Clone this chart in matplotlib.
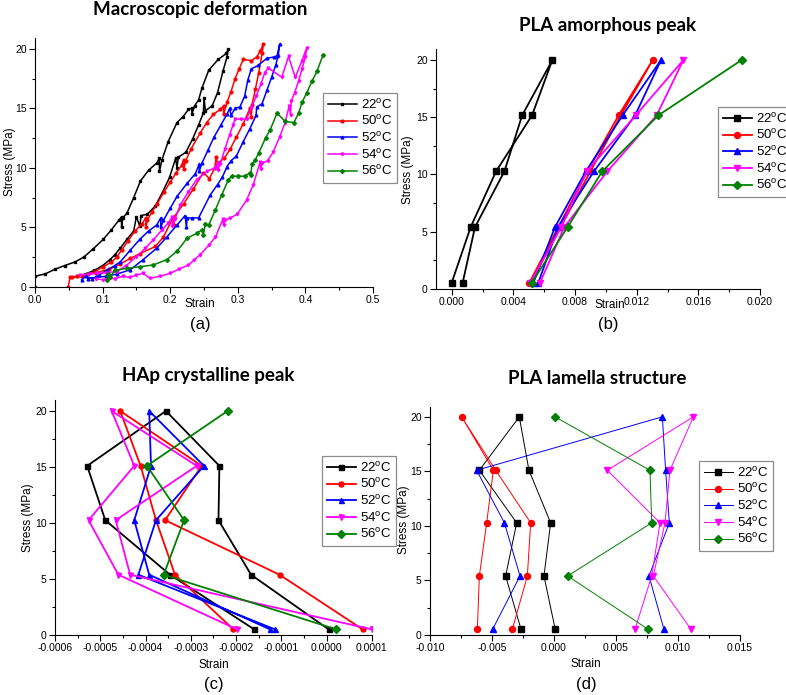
import matplotlib
matplotlib.use("Agg")
import matplotlib.pyplot as plt
from matplotlib.ticker import MultipleLocator, FormatStrFormatter, FuncFormatter

plt.rcParams['font.family'] = ['Liberation Sans', 'DejaVu Sans']
plt.rcParams['axes.unicode_minus'] = False
plt.rcParams['mathtext.fontset'] = 'custom'
plt.rcParams['mathtext.rm'] = 'Liberation Sans'

labels = [r'22$^{\rm o}$C', r'50$^{\rm o}$C', r'52$^{\rm o}$C', r'54$^{\rm o}$C', r'56$^{\rm o}$C']
colors = ['black', 'red', 'blue', 'magenta', 'green']
markers = ['s', 'o', '^', 'v', 'D']

# (a) macroscopic deformation
a_strain_22 = [0.000, 0.000, 0.015, 0.030, 0.044, 0.059, 0.072, 0.086, 0.101, 0.113, 0.124, 0.128, 0.128, 0.130,
               0.136, 0.146, 0.156, 0.168, 0.180, 0.184, 0.184, 0.188, 0.197, 0.210, 0.219, 0.227, 0.232, 0.232,
               0.236, 0.242, 0.247, 0.257, 0.271, 0.283, 0.286,
               0.284, 0.278, 0.270, 0.262, 0.252, 0.250, 0.249, 0.242, 0.233, 0.223, 0.212, 0.210, 0.208, 0.199,
               0.189, 0.178, 0.166, 0.157, 0.155, 0.150, 0.146, 0.136, 0.126, 0.118, 0.111, 0.100, 0.088, 0.075, 0.062]
a_stress_22 = [0.0, 0.9, 1.1, 1.5, 1.8, 2.1, 2.5, 3.2, 4.0, 4.8, 5.6, 5.9, 5.0, 5.8,
               6.2, 7.5, 8.9, 9.8, 10.4, 10.8, 9.7, 10.7, 12.2, 13.8, 14.3, 14.9, 15.0, 14.5,
               15.2, 15.7, 16.7, 18.2, 19.1, 19.6, 20.0,
               19.3, 18.1, 16.3, 15.2, 14.8, 15.9, 14.6, 13.6, 12.4, 11.3, 10.9, 10.0, 10.8, 9.2,
               8.0, 6.8, 6.1, 6.0, 5.1, 5.9, 4.7, 4.0, 3.25, 2.7, 2.3, 1.8, 1.4, 1.1, 0.9]

a_strain_50 = [0.049, 0.052, 0.062, 0.075, 0.089, 0.101, 0.113, 0.121, 0.128, 0.138, 0.148, 0.158, 0.164, 0.164,
               0.166, 0.173, 0.181, 0.191, 0.200, 0.209, 0.217, 0.220, 0.220, 0.223, 0.231, 0.244, 0.254, 0.264,
               0.274, 0.279, 0.279, 0.284, 0.290, 0.296, 0.302, 0.308, 0.320, 0.328, 0.333, 0.338,
               0.336, 0.331, 0.326, 0.321, 0.320, 0.318, 0.308, 0.298, 0.289, 0.280, 0.270, 0.268, 0.266, 0.258,
               0.249, 0.234, 0.220, 0.206, 0.205, 0.204, 0.190, 0.178, 0.155, 0.141, 0.125, 0.110, 0.090, 0.070, 0.055]
a_stress_50 = [0.0, 0.8, 0.9, 1.0, 1.3, 1.7, 2.1, 2.5, 3.1, 3.9, 4.7, 5.3, 5.8, 5.0,
               5.6, 6.3, 7.0, 8.0, 8.8, 9.6, 10.2, 10.7, 9.9, 10.6, 11.6, 12.9, 13.8, 14.5,
               14.9, 15.2, 14.5, 15.5, 16.4, 17.5, 18.3, 19.1, 19.0, 19.3, 19.8, 20.4,
               19.6, 18.0, 16.6, 15.3, 14.3, 15.0, 13.7, 12.6, 11.6, 10.8, 10.4, 10.9, 10.0, 9.1,
               9.6, 8.2, 7.0, 5.9, 5.2, 5.8, 4.2, 3.4, 2.8, 2.4, 1.9, 1.5, 1.2, 0.9, 0.8]

a_strain_52 = [0.069, 0.075, 0.085, 0.095, 0.106, 0.118, 0.126, 0.141, 0.155, 0.168, 0.180, 0.186, 0.186, 0.190,
               0.200, 0.210, 0.225, 0.237, 0.243, 0.243, 0.247, 0.256, 0.265, 0.275, 0.284, 0.288, 0.290, 0.296,
               0.303, 0.310, 0.315, 0.320, 0.330, 0.343, 0.353, 0.358, 0.362,
               0.360, 0.356, 0.350, 0.343, 0.336, 0.328, 0.327, 0.318, 0.308, 0.298, 0.290, 0.284, 0.277, 0.270,
               0.259, 0.242, 0.232, 0.225, 0.224, 0.222, 0.210, 0.195, 0.180, 0.160, 0.141, 0.122, 0.105, 0.090, 0.078]
a_stress_52 = [0.6, 0.9, 0.7, 1.0, 1.4, 1.8, 2.1, 3.1, 4.0, 4.7, 5.2, 5.8, 5.0, 5.6,
               6.6, 7.6, 8.7, 9.5, 10.3, 9.7, 10.4, 11.5, 12.6, 13.6, 14.5, 15.0, 14.4, 15.0,
               15.1, 16.0, 17.4, 18.3, 18.6, 19.2, 19.3, 19.4, 20.4,
               19.5, 18.6, 17.6, 16.5, 15.4, 15.1, 14.4, 13.3, 12.2, 11.0, 10.6, 10.1, 9.2, 8.6,
               7.7, 5.8, 5.8, 5.8, 5.0, 6.0, 5.2, 4.2, 3.25, 2.3, 1.45, 1.1, 0.9, 0.8, 0.7]

a_strain_54 = [0.067, 0.080, 0.091, 0.105, 0.121, 0.135, 0.150, 0.163, 0.175, 0.188, 0.197, 0.203, 0.203, 0.207,
               0.215, 0.227, 0.239, 0.254, 0.266, 0.270, 0.270, 0.274, 0.281, 0.288, 0.293, 0.296, 0.305, 0.313,
               0.320, 0.327, 0.334, 0.340, 0.345, 0.365, 0.375, 0.385, 0.395, 0.402,
               0.400, 0.395, 0.390, 0.384, 0.379, 0.378, 0.376, 0.370, 0.362, 0.352, 0.344, 0.336, 0.334, 0.333,
               0.323, 0.313, 0.299, 0.289, 0.281, 0.279, 0.278, 0.267, 0.257, 0.244, 0.235, 0.227, 0.213, 0.200,
               0.185, 0.170, 0.160, 0.150, 0.140, 0.130, 0.118, 0.111, 0.100, 0.090]
a_stress_54 = [1.0, 1.1, 1.15, 1.2, 1.3, 1.8, 2.55, 3.25, 3.96, 4.8, 5.36, 5.9, 5.1, 5.7,
               6.9, 8.0, 9.0, 9.7, 10.0, 10.4, 9.8, 10.3, 11.6, 12.8, 13.6, 14.1, 14.1, 14.1,
               15.0, 16.0, 17.0, 18.0, 18.4, 17.6, 19.35, 17.6, 19.0, 20.1,
               19.3, 18.3, 17.3, 16.3, 15.6, 14.4, 15.2, 13.8, 12.6, 11.3, 10.6, 10.4, 9.9, 10.5,
               8.6, 7.3, 6.1, 5.8, 5.6, 5.2, 5.7, 4.2, 3.5, 2.7, 2.25, 1.85, 1.5, 1.15,
               0.9, 0.73, 1.15, 1.0, 0.8, 0.9, 0.7, 0.73, 0.6, 0.7]

a_strain_56 = [0.106, 0.108, 0.111, 0.118, 0.136, 0.155, 0.175, 0.195, 0.210, 0.225, 0.239, 0.247, 0.249, 0.252,
               0.257, 0.267, 0.276, 0.286, 0.291, 0.300, 0.311, 0.318, 0.319, 0.321, 0.326, 0.331, 0.341, 0.348,
               0.358, 0.370, 0.383, 0.390, 0.395, 0.402, 0.410, 0.417, 0.426]
a_stress_56 = [0.6, 1.1, 0.8, 1.4, 1.57, 1.7, 1.85, 2.3, 3.0, 4.1, 4.5, 4.8, 4.4, 5.3,
               5.2, 6.5, 7.7, 9.0, 9.3, 9.3, 9.3, 9.6, 9.4, 10.3, 10.7, 11.25, 12.5, 13.2,
               14.6, 13.9, 13.8, 14.6, 15.5, 16.3, 17.3, 18.1, 19.45]

# stress steps used in (b), (c), (d)
b_stress = [0.55, 5.41, 10.28, 15.17, 20.0, 15.17, 10.28, 5.41, 0.55]
b_stress_56 = [0.55, 5.41, 10.28, 15.17, 20.0]
b_strain_22 = [0.0000, 0.00123, 0.00288, 0.00521, 0.00653, 0.00457, 0.00342, 0.00151, 0.00071]
b_strain_50 = [0.00504, 0.00692, 0.00880, 0.01083, 0.01304, 0.01098, 0.00900, 0.00707, 0.00512]
b_strain_52 = [0.00530, 0.00670, 0.00870, 0.01109, 0.01358, 0.01190, 0.00923, 0.00690, 0.00562]
b_strain_54 = [0.00510, 0.00710, 0.00876, 0.01194, 0.01503, 0.01330, 0.01010, 0.00730, 0.00573]
b_strain_56 = [0.00519, 0.00752, 0.00977, 0.01341, 0.01881]

c_stress = [0.5, 5.38, 10.25, 15.1, 20.0, 15.1, 10.25, 5.38, 0.5]
c_stress_56 = [20.0, 15.1, 10.25, 5.38, 0.5]
c_strain_22 = [0.0000043, -0.000167, -0.000239, -0.000237, -0.000355, -0.000529, -0.000489, -0.000346, -0.000160]
c_strain_50 = [0.0000794, -0.000104, -0.000357, -0.000276, -0.000456, -0.000411, -0.000377, -0.000335, -0.000206]
c_strain_52 = [-0.000114, -0.000416, -0.000377, -0.000271, -0.000392, -0.000388, -0.000425, -0.000392, -0.000125]
c_strain_54 = [0.0001, -0.000434, -0.000466, -0.000287, -0.000475, -0.000425, -0.000526, -0.000460, -0.000198]
c_strain_56 = [-0.000219, -0.000397, -0.000315, -0.000360, 0.0000212]

d_stress = [0.52, 5.41, 10.28, 15.1, 20.0, 15.1, 10.28, 5.41, 0.52]
d_stress_56 = [20.0, 15.1, 10.28, 5.41, 0.52]
d_strain_22 = [0.0001, -0.00081, -0.00027, -0.00202, -0.00280, -0.00602, -0.00301, -0.00390, -0.00266]
d_strain_50 = [-0.00336, -0.00215, -0.00188, -0.00470, -0.00745, -0.00489, -0.00543, -0.00602, -0.00618]
d_strain_52 = [-0.00495, -0.00274, -0.00400, -0.00624, 0.00874, 0.00900, 0.00930, 0.00766, 0.00887]
d_strain_54 = [0.01105, 0.00801, 0.00895, 0.00935, 0.01124, 0.00430, 0.00855, 0.00788, 0.00653]
d_strain_56 = [0.00008, 0.00774, 0.00788, 0.00110, 0.00760]

W, H = 786, 695
fig = plt.figure(figsize=(W / 100, H / 100), dpi=100)


def box(l, t, r, b):
    return [l / W, 1 - b / H, (r - l) / W, (b - t) / H]


def fmt(decimals):
    # avoid "-0.0000" on the zero tick
    return FuncFormatter(lambda v, _: f'{0.0 if abs(v) < 1e-12 else v:.{decimals}f}')


def style(ax, title, tx, ty, lab, lx, ly, slx, sly, stx, sty):
    for s in ['top', 'right']:
        ax.spines[s].set_visible(False)
    ax.tick_params(which='major', direction='out', length=4, width=0.8, labelsize=7.5, pad=2)
    ax.tick_params(which='minor', direction='out', length=2.5, width=0.8)
    ax.yaxis.set_major_locator(MultipleLocator(5))
    ax.yaxis.set_minor_locator(MultipleLocator(2.5))
    fig.text(tx / W, 1 - ty / H, title, fontsize=13.5, fontweight='bold', family='Lato', ha='center', va='center')
    fig.text(lx / W, 1 - ly / H, lab, fontsize=12, ha='center', va='center')
    fig.text(slx / W, 1 - sly / H, 'Strain', fontsize=8.5, ha='center', va='center')
    fig.text(stx / W, 1 - sty / H, 'Stress (MPa)', fontsize=8.5, ha='center', va='center', rotation=90)


def legend(ax, x, y):
    leg = ax.legend(loc='upper left', bbox_to_anchor=(x / W, 1 - y / H), bbox_transform=fig.transFigure,
                    fontsize=9.5, frameon=True, fancybox=False, borderaxespad=0, handlelength=2.2,
                    handletextpad=0.3, labelspacing=0.2, borderpad=0.35)
    leg.get_frame().set_edgecolor('#707070')
    leg.get_frame().set_linewidth(0.9)


# (a)
ax = fig.add_axes(box(35, 38, 373, 287))
a_data = [(a_strain_22, a_stress_22), (a_strain_50, a_stress_50), (a_strain_52, a_stress_52),
          (a_strain_54, a_stress_54), (a_strain_56, a_stress_56)]
for (x, y), c, m, lb in zip(a_data, colors, markers, labels):
    ax.plot(x, y, color=c, marker=m, markersize=2.0, lw=1.1, label=lb)
ax.set_xlim(0, 0.5)
ax.set_ylim(0, 20.9)
ax.xaxis.set_major_locator(MultipleLocator(0.1))
ax.xaxis.set_minor_locator(MultipleLocator(0.05))
ax.xaxis.set_major_formatter(fmt(1))
style(ax, 'Macroscopic deformation', 200, 9, '(a)', 200, 325, 200, 304, 10, 162)
legend(ax, 323, 93)

# (b)
ax = fig.add_axes(box(436, 49, 760, 289))
b_data = [(b_strain_22, b_stress), (b_strain_50, b_stress), (b_strain_52, b_stress),
          (b_strain_54, b_stress), (b_strain_56, b_stress_56)]
for (x, y), c, m, lb in zip(b_data, colors, markers, labels):
    ax.plot(x, y, color=c, marker=m, markersize=4.3, lw=1.3, label=lb)
ax.set_xlim(-0.00102, 0.020)
ax.set_ylim(0, 20.96)
ax.xaxis.set_major_locator(MultipleLocator(0.004))
ax.xaxis.set_minor_locator(MultipleLocator(0.002))
ax.xaxis.set_major_formatter(fmt(3))
style(ax, 'PLA amorphous peak', 608, 25, '(b)', 608, 324, 610, 305, 408, 170)
legend(ax, 718, 107)

# (c)
ax = fig.add_axes(box(55, 400, 372, 635))
c_data = [(c_strain_22, c_stress), (c_strain_50, c_stress), (c_strain_52, c_stress),
          (c_strain_54, c_stress), (c_strain_56, c_stress_56)]
for (x, y), c, m, lb in zip(c_data, colors, markers, labels):
    ax.plot(x, y, color=c, marker=m, markersize=3.6, lw=1.3, label=lb)
ax.set_xlim(-0.0006, 0.0001)
ax.set_ylim(0, 20.98)
ax.xaxis.set_major_locator(MultipleLocator(0.0001))
ax.xaxis.set_minor_locator(MultipleLocator(0.00005))
ax.xaxis.set_major_formatter(fmt(4))
style(ax, 'HAp crystalline peak', 208, 375, '(c)', 214, 685, 214, 665, 28, 518)
legend(ax, 322, 456)

# (d)
ax = fig.add_axes(box(430, 407, 740, 635))
d_data = [(d_strain_22, d_stress), (d_strain_50, d_stress), (d_strain_52, d_stress),
          (d_strain_54, d_stress), (d_strain_56, d_stress_56)]
for (x, y), c, m, lb in zip(d_data, colors, markers, labels):
    ax.plot(x, y, color=c, marker=m, markersize=4.3, lw=0.7, label=lb)
ax.set_xlim(-0.010, 0.015)
ax.set_ylim(0, 20.9)
ax.xaxis.set_major_locator(MultipleLocator(0.005))
ax.xaxis.set_minor_locator(MultipleLocator(0.0025))
ax.xaxis.set_major_formatter(fmt(3))
style(ax, 'PLA lamella structure', 597, 379, '(d)', 586, 685, 586, 664, 404, 520)
legend(ax, 699, 461)

fig.savefig('out.png', dpi=100)
